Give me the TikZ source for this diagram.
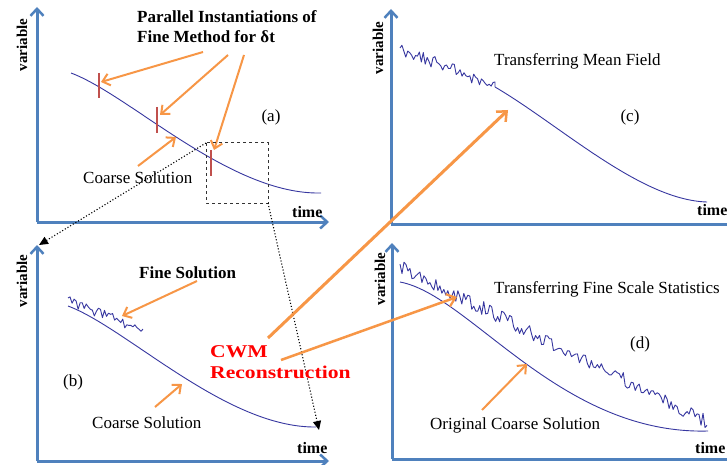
\documentclass[tikz,border=0pt]{standalone}
\usepackage{fontspec}
\setmainfont{Liberation Serif}
\usetikzlibrary{arrows.meta}
\definecolor{axisblue}{HTML}{4F81BD}
\definecolor{arrorange}{HTML}{F79646}
\definecolor{tickred}{HTML}{C0504D}
\definecolor{curveblue}{RGB}{55,55,160}
\tikzset{
  axis/.style={draw=axisblue,line width=3pt,-{Straight Barb[length=7pt,width=13pt,line width=2.5pt]}},
  oarrow/.style={draw=arrorange,line width=2pt,-{Straight Barb[length=7pt,width=12pt,line width=2pt]}},
  cwmline/.style={draw=arrorange,line width=3pt},
  coarse/.style={draw=curveblue,line width=0.9pt},
  fine/.style={draw=curveblue,line width=0.9pt,line join=round},
  tickmark/.style={draw=tickred,line width=1.8pt},
  dotarrow/.style={draw=black,dotted,line width=1.1pt,-{Triangle[length=9pt,width=8pt]}},
  txt/.style={font=\fontsize{17}{20}\selectfont,inner sep=0pt},
  btxt/.style={font=\fontsize{17}{20}\selectfont\bfseries,inner sep=0pt},
  vlab/.style={font=\fontsize{15}{18}\selectfont\bfseries,inner sep=0pt,rotate=90},
  tlab/.style={font=\fontsize{16}{18}\selectfont\bfseries,inner sep=0pt,anchor=base west},
  cwm/.style={font=\fontsize{18}{22}\selectfont\bfseries,text=red,inner sep=0pt,anchor=base west},
}
\begin{document}
\begin{tikzpicture}[x=1pt,y=-1pt]
\pgfmathsetseed{17}
\fill[white] (0,0) rectangle (727,465);
\useasboundingbox (0,0) rectangle (727,465);

% ---------- axes ----------
\coordinate (aO) at (37,222);
\coordinate (aY) at (37,7);
\coordinate (aX) at (329,222);
\coordinate (bO) at (37,461);
\coordinate (bY) at (37,245);
\coordinate (bX) at (329,461);
\coordinate (cO) at (391,224);
\coordinate (cY) at (391,9);
\coordinate (cX) at (738,224);
\coordinate (dO) at (392,459);
\coordinate (dY) at (392,243);
\coordinate (dX) at (738,459);
\draw[axis] (aO) -- (aY);
\draw[axis] (aO) -- (aX);
\draw[axis] (bO) -- (bY);
\draw[axis] (bO) -- (bX);
\draw[axis] (cO) -- (cY);
\draw[axis] (cO) -- (cX);
\draw[axis] (dO) -- (dY);
\draw[axis] (dO) -- (dX);

% ---------- axis labels ----------
\node[vlab] (va) at (22,45) {variable};
\node[vlab] (vb) at (22,281) {variable};
\node[vlab] (vc) at (378,48) {variable};
\node[vlab] (vd) at (380,279) {variable};
\node[tlab] (ta) at (292,217) {time};
\node[tlab] (tb) at (297,453) {time};
\node[tlab] (tc) at (697,215) {time};
\node[tlab] (td) at (695,453) {time};

% ---------- panel (a) ----------
\draw[coarse] (71,73) .. controls (130,95) and (230,195) .. (321,193);
\coordinate (t1a) at (99,73);  \coordinate (t1b) at (99,98);
\coordinate (t2a) at (157,107); \coordinate (t2b) at (157,133);
\coordinate (t3a) at (211,150); \coordinate (t3b) at (211,176);
\draw[tickmark] (t1a) -- (t1b);
\draw[tickmark] (t2a) -- (t2b);
\draw[tickmark] (t3a) -- (t3b);
\node[btxt,anchor=base west] (par1) at (137,23) {Parallel Instantiations of};
\node[btxt,anchor=base west] (par2) at (137,43) {Fine Method for δt};
\node[txt] (la) at (271,117) {(a)};
\node[txt,anchor=base west] (csa) at (83,183) {Coarse Solution};
\coordinate (p1s) at (203,52);  \coordinate (p1e) at (101,82);
\coordinate (p2s) at (228,55);  \coordinate (p2e) at (160,115);
\coordinate (p3s) at (244,55);  \coordinate (p3e) at (214,150);
\coordinate (c1s) at (138,166); \coordinate (c1e) at (176,137);
\draw[oarrow] (p1s) -- (p1e);
\draw[oarrow] (p2s) -- (p2e);
\draw[oarrow] (p3s) -- (p3e);
\draw[oarrow] (c1s) -- (c1e);
\coordinate (boxa) at (206,143);
\coordinate (boxb) at (268,203);
\draw[dashed,draw=black!80,line width=1pt] (boxa) rectangle (boxb);

% ---------- panel (b) ----------
\draw[coarse] (68,306) .. controls (127,328) and (226,428) .. (316,427);
\draw[fine] plot[domain=68:143,samples=38] (\x,{301+0.39*(\x-68)+5*rand});
\node[btxt,anchor=base west] (fsb) at (139,278) {Fine Solution};
\node[txt] (lb) at (73,382) {(b)};
\node[txt,anchor=base west] (csb) at (92,428) {Coarse Solution};
\coordinate (f1s) at (197,281); \coordinate (f1e) at (122,316);
\coordinate (c2s) at (155,407); \coordinate (c2e) at (182,384);
\draw[oarrow] (f1s) -- (f1e);
\draw[oarrow] (c2s) -- (c2e);

% ---------- dotted zoom arrows ----------
\coordinate (bYtip) at (39,245);
\coordinate (bEnd) at (319,430);
\draw[dotarrow] (boxa) -- (bYtip);
\draw[dotarrow] (boxb) -- (bEnd);

% ---------- panel (c) ----------
\draw[fine] plot[domain=400:495,samples=50] (\x,{49+0.39*(\x-400)+6*rand}) -- (495,87);
\draw[coarse] (495,87) .. controls (560,125) and (640,200) .. (707,202);
\node[txt,anchor=base west] (tmf) at (494,66) {Transferring Mean Field};
\node[txt] (lc) at (630,117) {(c)};

% ---------- panel (d) ----------
\draw[fine] plot[domain=400:707,samples=155] (\x,{266+0.508*(\x-400)+7*rand});
\draw[coarse] (400,282) .. controls (470,295) and (560,435) .. (708,431);
\node[txt,anchor=base west] (tfs) at (494,293) {Transferring Fine Scale Statistics};
\node[txt] (ld) at (640,344) {(d)};
\node[txt,anchor=base west] (ocs) at (430,429) {Original Coarse Solution};
\coordinate (o1s) at (482,410); \coordinate (o1e) at (527,364);
\draw[oarrow] (o1s) -- (o1e);

% ---------- CWM ----------
\node[cwm] (cwm1) at (210,357) {\scalebox{1.2}[1]{CWM}};
\node[cwm] (cwm2) at (210,378) {\scalebox{1.2}[1]{Reconstruction}};
\coordinate (w1s) at (268,338); \coordinate (w1e) at (508,110);
\coordinate (w2s) at (281,360); \coordinate (w2e) at (457,297);
\draw[cwmline,-{Straight Barb[length=8pt,width=14pt,line width=2.5pt]}] (w1s) -- (w1e);
\draw[cwmline,line width=2.5pt,-{Straight Barb[length=8pt,width=13pt,line width=2.2pt]}] (w2s) -- (w2e);
\end{tikzpicture}
\end{document}
